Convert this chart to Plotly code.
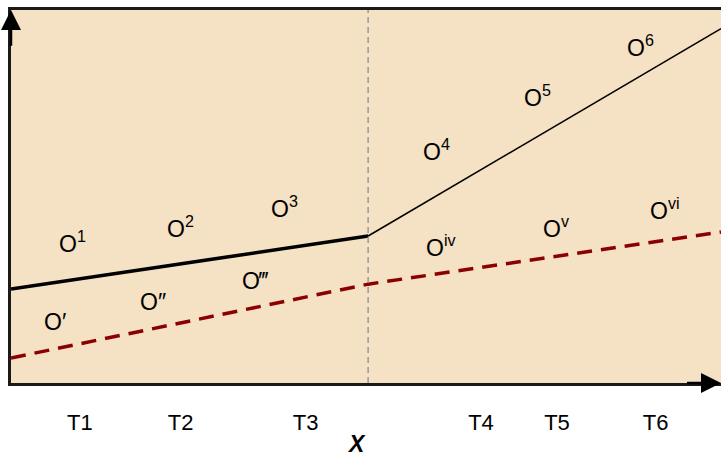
import plotly.graph_objects as go

# ---- data ----
solid_x = [0, 50.3, 100]
solid_y = [25.2, 39.4, 95.0]
dashed_x = [0, 50.3, 100]
dashed_y = [6.7, 26.5, 40.5]
break_x = 50.3

upper_labels = ["O<sup>1</sup>", "O<sup>2</sup>", "O<sup>3</sup>", "O<sup>4</sup>", "O<sup>5</sup>", "O<sup>6</sup>"]
upper_x = [8.6, 23.9, 38.5, 59.9, 74.1, 88.6]
upper_y = [37.8, 41.8, 47.2, 62.5, 76.9, 90.3]
lower_labels = ["O′", "O″", "O‴", "O<sup>iv</sup>", "O<sup>v</sup>", "O<sup>vi</sup>"]
lower_x = [6.2, 20.0, 34.4, 60.6, 76.8, 92.1]
lower_y = [16.4, 21.7, 27.3, 36.7, 41.8, 46.6]

tick_vals = [9.7, 23.9, 41.5, 66.2, 76.9, 90.8]
tick_text = ["T1", "T2", "T3", "T4", "T5", "T6"]

FONT = "Arial, Liberation Sans, sans-serif"
BG = "#F5E1C3"

fig = go.Figure()

# thick solid segment then thin solid segment
fig.add_trace(go.Scatter(x=solid_x[:2], y=solid_y[:2], mode="lines",
                         line=dict(color="black", width=3.5), hoverinfo="skip"))
fig.add_trace(go.Scatter(x=solid_x[1:], y=solid_y[1:], mode="lines",
                         line=dict(color="black", width=1.6), hoverinfo="skip"))
# dashed dark red
fig.add_trace(go.Scatter(x=dashed_x, y=dashed_y, mode="lines",
                         line=dict(color="#8B0000", width=3.5, dash="15px,9px"), hoverinfo="skip"))

# vertical dashed separator
fig.add_shape(type="line", xref="x", yref="paper", x0=break_x, x1=break_x, y0=0, y1=1,
              line=dict(color="#999999", width=1.5, dash="6px,4px"), layer="above")

annotations = []
for t, x, y in zip(upper_labels + lower_labels, upper_x + lower_x, upper_y + lower_y):
    annotations.append(dict(x=x, y=y, xref="x", yref="y", text=t, showarrow=False,
                            font=dict(family=FONT, size=23, color="black")))

# axis title X
annotations.append(dict(x=48.7, y=0, xref="x", yref="paper", yanchor="top", yshift=-46,
                        text="<b><i>X</i></b>", showarrow=False,
                        font=dict(family=FONT, size=23, color="black")))
# axis arrows
annotations.append(dict(x=0, y=100, xref="x", yref="y", ax=0, ay=90, axref="x", ayref="y",
                        showarrow=True, arrowhead=2, arrowsize=1.6, arrowwidth=2.5,
                        arrowcolor="black", text=""))
annotations.append(dict(x=100, y=0, xref="x", yref="y", ax=95, ay=0, axref="x", ayref="y",
                        showarrow=True, arrowhead=2, arrowsize=1.6, arrowwidth=2.5,
                        arrowcolor="black", text=""))

fig.update_layout(
    width=721, height=456,
    margin=dict(l=11, r=0, t=10, b=73),
    paper_bgcolor="white", plot_bgcolor=BG,
    showlegend=False,
    annotations=annotations,
    xaxis=dict(range=[0, 100], showgrid=False, zeroline=False,
               showline=True, linecolor="#1a1a1a", linewidth=2.5, mirror=True,
               tickvals=tick_vals, ticktext=tick_text, ticks="outside", ticklen=18,
               tickcolor="rgba(0,0,0,0)",
               tickfont=dict(family=FONT, size=22, color="black")),
    yaxis=dict(range=[0, 100], showgrid=False, zeroline=False,
               showline=True, linecolor="#1a1a1a", linewidth=2.5,
               showticklabels=False, ticks=""),
)

fig.write_html("out.html", config={"displayModeBar": False},
               post_script="document.body.style.margin='0';document.body.style.overflow='hidden';")
